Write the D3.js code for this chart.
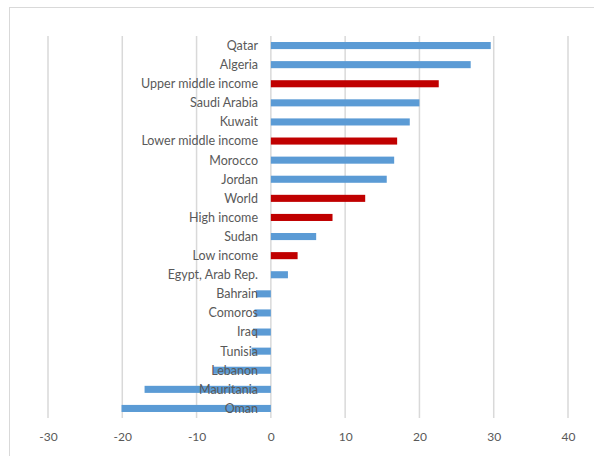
<!DOCTYPE html>
<html><head><meta charset="utf-8">
<script src="https://cdn.jsdelivr.net/npm/d3@7"></script>
<style>body{margin:0;background:#fff}svg{display:block}text{font-family:Lato,"Open Sans",sans-serif}</style>
</head><body>
<script>
const categories = ["Qatar","Algeria","Upper middle income","Saudi Arabia","Kuwait","Lower middle income","Morocco","Jordan","World","High income","Sudan","Low income","Egypt, Arab Rep.","Bahrain","Comoros","Iraq","Tunisia","Lebanon","Mauritania","Oman"];
const values = [29.6,26.9,22.6,20.0,18.7,17.0,16.6,15.6,12.7,8.3,6.1,3.6,2.3,-2.0,-2.2,-2.4,-2.6,-7.8,-17.0,-20.1];
const isAggregate = [false,false,true,false,false,true,false,false,true,true,false,true,false,false,false,false,false,false,false,false];
const xTicks = [-30,-20,-10,0,10,20,30,40];

const W=594,H=456;
const svg=d3.select("body").append("svg").attr("width",W).attr("height",H);
svg.append("rect").attr("x",9.5).attr("y",7.5).attr("width",640).attr("height",480)
  .attr("fill","#fff").attr("stroke","#d9d9d9").attr("stroke-width",1);

const x=d3.scaleLinear().domain([-30,40]).range([48,568]);
const y=d3.scaleBand().domain(categories).range([36,418]).paddingInner(0.63).paddingOuter(0.315);

svg.append("g").selectAll("line").data(xTicks).join("line")
  .attr("x1",d=>x(d)).attr("x2",d=>x(d)).attr("y1",36).attr("y2",418)
  .attr("stroke","#d9d9d9").attr("stroke-width",1.5);

svg.append("g").selectAll("rect").data(categories).join("rect")
  .attr("x",(d,i)=>x(Math.min(0,values[i])))
  .attr("width",(d,i)=>Math.abs(x(values[i])-x(0)))
  .attr("y",d=>y(d)).attr("height",y.bandwidth())
  .attr("fill",(d,i)=>isAggregate[i]?"#C00000":"#5B9BD5");

svg.append("g").selectAll("text").data(categories).join("text")
  .attr("x",258).attr("y",d=>y(d)+y.bandwidth()/2).attr("dy","0.35em")
  .attr("text-anchor","end").attr("font-size",12.5).attr("fill","#595959").text(d=>d);

const xAxis=d3.axisBottom(x).tickValues(xTicks).tickSize(0).tickPadding(0).tickFormat(d=>String(d));
const ga=svg.append("g").attr("transform","translate(0,432)").call(xAxis);
ga.select(".domain").remove();
ga.selectAll("text").attr("font-size",12).attr("fill","#595959").attr("font-family","Lato,'Open Sans',sans-serif");
</script>
</body></html>
